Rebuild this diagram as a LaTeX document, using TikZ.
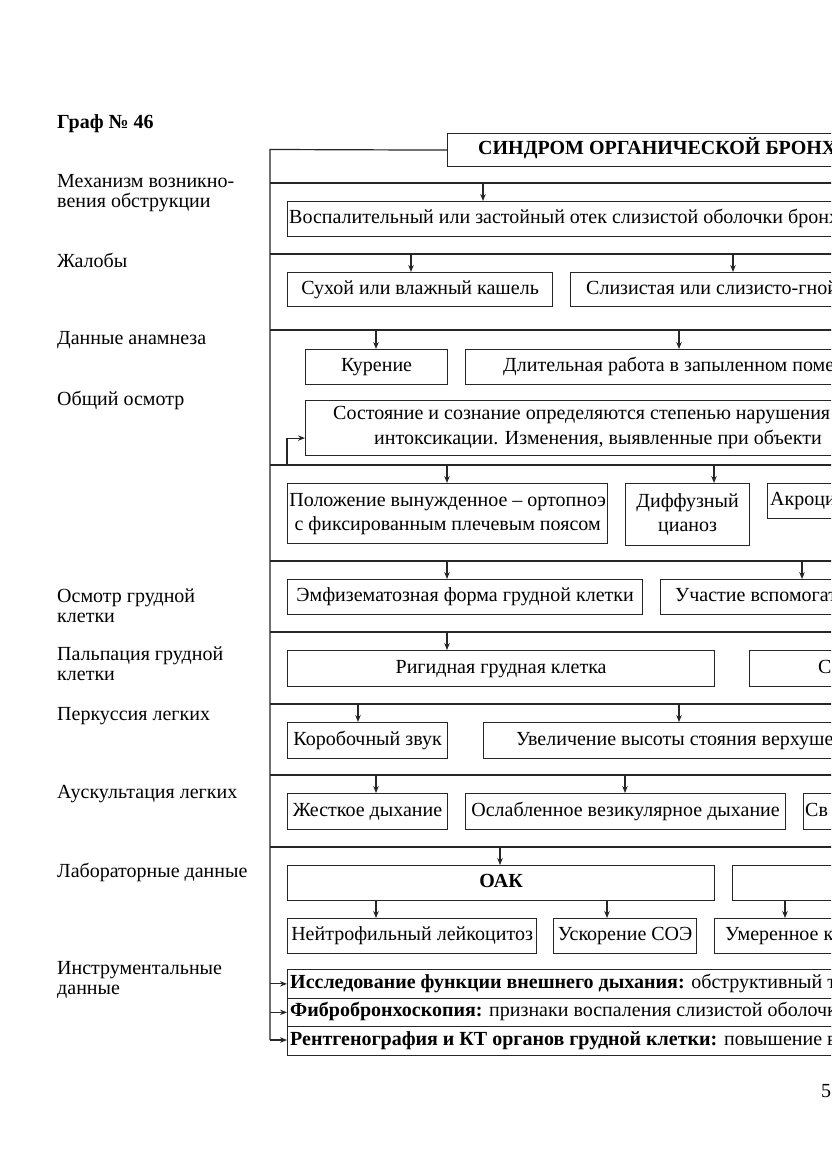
\documentclass[tikz,border=0pt]{standalone}
\usepackage{fontspec}
\setmainfont{Liberation Serif}
\usetikzlibrary{arrows.meta}
\begin{document}
\begin{tikzpicture}[x=1pt,y=-1pt,
  font=\fontsize{20}{24}\selectfont,
  ln/.style={line width=1.2pt, draw=black!85},
  box/.style={draw=black!85, line width=1.2pt, inner sep=0pt, anchor=north west, align=center},
  one/.style={text height=13pt, text depth=4pt},
  txt/.style={inner sep=0pt, anchor=west, text height=13pt, text depth=4pt},
  lbl/.style={inner sep=0pt, anchor=west, align=left, font=\fontsize{20}{20}\selectfont},
  arr/.style={-{Stealth[length=7pt,width=5.5pt]}, line width=1.1pt, draw=black!85}]
\useasboundingbox (0,0) rectangle (831,1174);
\clip (0,0) rectangle (831,1174);
\fill[white] (0,0) rectangle (831,1174);

% left labels
\node[lbl, font=\fontsize{20}{20}\selectfont\bfseries] (g) at (57,124) {Граф № 46};
\node[lbl] (l1) at (57,193) {Механизм возникно-\\вения обструкции};
\node[lbl] (l2) at (57,260) {Жалобы};
\node[lbl] (l3) at (57,340) {Данные анамнеза};
\node[lbl] (l4) at (57,400) {Общий осмотр};
\node[lbl] (l5) at (57,606) {Осмотр грудной\\клетки};
\node[lbl] (l6) at (57,664) {Пальпация грудной\\клетки};
\node[lbl] (l7) at (57,716) {Перкуссия легких};
\node[lbl] (l8) at (57,794) {Аускультация легких};
\node[lbl] (l9) at (57,872) {Лабораторные данные};
\node[lbl] (l10) at (57,980) {Инструментальные\\данные};
\node[txt] (pg) at (821,1093) {5};

% title
\node[box, minimum width=500pt, minimum height=33pt] (title) at (447,133) {};
\node[txt, font=\fontsize{20}{24}\selectfont\bfseries] (titletxt) at ([xshift=31pt]title.west) {СИНДРОМ ОРГАНИЧЕСКОЙ БРОНХ};

% bus
\coordinate (busTop) at (270,149.5);
\coordinate (busBot) at (270,1040);
\draw[ln] (title.west) -- (busTop) -- (busBot);

% separators
\foreach \n/\y in {1/183,2/254,3/330,4/465,5/561,6/632,7/704,8/775,9/847}{
  \coordinate (s\n) at (270,\y);
  \draw[ln] (s\n) -- ++(700,0);
}

% row 1
\node[box, minimum width=700pt, minimum height=35pt] (b1) at (287,201) {};
\node[txt] (b1t) at ([xshift=2pt]b1.west) {Воспалительный или застойный отек слизистой оболочки бронх};
\coordinate (a1) at (483,183);
\draw[arr] (a1) -- (a1 |- b1.north);

% row 2
\node[box, one, minimum width=265pt, minimum height=34pt] (b2a) at (287,272) {Сухой или влажный кашель};
\node[box, minimum width=500pt, minimum height=34pt] (b2b) at (570,272) {};
\node[txt] (b2bt) at ([xshift=16pt]b2b.west) {Слизистая или слизисто-гной};
\coordinate (a2a) at (411,254);
\coordinate (a2b) at (733,254);
\draw[arr] (a2a) -- (a2a |- b2a.north);
\draw[arr] (a2b) -- (a2b |- b2b.north);

% row 3
\node[box, one, minimum width=142pt, minimum height=35pt] (b3a) at (305,349) {Курение};
\node[box, minimum width=500pt, minimum height=35pt] (b3b) at (465,349) {};
\node[txt] (b3bt) at ([xshift=38pt]b3b.west) {Длительная работа в запыленном поме};
\coordinate (a3a) at (376,330);
\coordinate (a3b) at (679,330);
\draw[arr] (a3a) -- (a3a |- b3a.north);
\draw[arr] (a3b) -- (a3b |- b3b.north);

\node[box, minimum width=600pt, minimum height=55pt] (b3c) at (305,400) {};
\node[txt] (b3ct1) at (333,415) {Состояние и сознание определяются степенью нарушения};
\node[txt] (b3ct2) at (374,440) {интоксикации. Изменения, выявленные при объекти};
\coordinate (c3) at (287,465);
\draw[arr] (c3) |- ([yshift=-10pt]b3c.west);

% row 4
\node[box, minimum width=320pt, minimum height=60pt] (b4a) at (287,483) {Положение вынужденное – ортопноэ\\с фиксированным плечевым поясом};
\node[box, minimum width=124pt, minimum height=62pt] (b4b) at (625,483) {Диффузный\\цианоз};
\node[box, minimum width=300pt, minimum height=35pt] (b4c) at (767,483) {};
\node[txt] (b4ct) at ([xshift=3pt]b4c.west) {Акроци};
\coordinate (a4a) at (447,465);
\coordinate (a4b) at (714,465);
\draw[arr] (a4a) -- (a4a |- b4a.north);
\draw[arr] (a4b) -- (a4b |- b4b.north);

% row 5
\node[box, one, minimum width=355pt, minimum height=35pt] (b5a) at (287,579) {Эмфизематозная форма грудной клетки};
\node[box, minimum width=400pt, minimum height=35pt] (b5b) at (660,579) {};
\node[txt] (b5bt) at ([xshift=15pt]b5b.west) {Участие вспомогат};
\coordinate (a5a) at (447,561);
\coordinate (a5b) at (802,561);
\draw[arr] (a5a) -- (a5a |- b5a.north);
\draw[arr] (a5b) -- (a5b |- b5b.north);

% row 6
\node[box, one, minimum width=427pt, minimum height=36pt] (b6a) at (287,650) {Ригидная грудная клетка};
\node[box, minimum width=400pt, minimum height=36pt] (b6b) at (749,650) {};
\node[txt] (b6bt) at ([xshift=69pt]b6b.west) {С};
\coordinate (a6a) at (447,632);
\draw[arr] (a6a) -- (a6a |- b6a.north);

% row 7
\node[box, one, minimum width=160pt, minimum height=36pt] (b7a) at (287,722) {Коробочный звук};
\node[box, minimum width=500pt, minimum height=36pt] (b7b) at (483,722) {};
\node[txt] (b7bt) at ([xshift=33pt]b7b.west) {Увеличение высоты стояния верхуше};
\coordinate (a7a) at (358,704);
\coordinate (a7b) at (679,704);
\draw[arr] (a7a) -- (a7a |- b7a.north);
\draw[arr] (a7b) -- (a7b |- b7b.north);

% row 8
\node[box, one, minimum width=160pt, minimum height=36pt] (b8a) at (287,793) {Жесткое дыхание};
\node[box, one, minimum width=320pt, minimum height=36pt] (b8b) at (465,793) {Ослабленное везикулярное дыхание};
\node[box, minimum width=300pt, minimum height=36pt] (b8c) at (803,793) {};
\node[txt] (b8ct) at ([xshift=2pt]b8c.west) {Св};
\coordinate (a8a) at (376,775);
\coordinate (a8b) at (625,775);
\draw[arr] (a8a) -- (a8a |- b8a.north);
\draw[arr] (a8b) -- (a8b |- b8b.north);

% row 9
\node[box, one, minimum width=427pt, minimum height=35pt, font=\fontsize{20}{24}\selectfont\bfseries] (b9a) at (287,865) {ОАК};
\node[box, minimum width=400pt, minimum height=35pt] (b9b) at (732,865) {};
\coordinate (a9) at (500,847);
\draw[arr] (a9) -- (a9 |- b9a.north);
\node[box, one, minimum width=249pt, minimum height=35pt] (b9c) at (287,918) {Нейтрофильный лейкоцитоз};
\node[box, one, minimum width=143pt, minimum height=35pt] (b9d) at (553,918) {Ускорение СОЭ};
\node[box, minimum width=400pt, minimum height=35pt] (b9e) at (714,918) {};
\node[txt] (b9et) at ([xshift=11pt]b9e.west) {Умеренное к};
\coordinate (a9c) at (376,900);
\coordinate (a9d) at (607,900);
\coordinate (a9e) at (785,900);
\draw[arr] (a9c) -- (a9c |- b9c.north);
\draw[arr] (a9d) -- (a9d |- b9d.north);
\draw[arr] (a9e) -- (a9e |- b9e.north);

% row 10
\node[box, minimum width=700pt, minimum height=28.5pt] (i1) at (287,969) {};
\node[box, minimum width=700pt, minimum height=28.5pt] (i2) at (287,997.5) {};
\node[box, minimum width=700pt, minimum height=28.5pt] (i3) at (287,1026) {};
\node[txt] (i1t) at ([xshift=3pt]i1.west) {\textbf{Исследование функции внешнего дыхания:} обструктивный т};
\node[txt] (i2t) at ([xshift=3pt]i2.west) {\textbf{Фибробронхоскопия:} признаки воспаления слизистой оболочк};
\node[txt] (i3t) at ([xshift=3pt]i3.west) {\textbf{Рентгенография и КТ органов грудной клетки:} повышение в};
\draw[arr] (busBot |- i1.west) -- (i1.west);
\draw[arr] (busBot |- i2.west) -- (i2.west);
\draw[arr] (busBot) -- (busBot -| i3.west);
\end{tikzpicture}
\end{document}
